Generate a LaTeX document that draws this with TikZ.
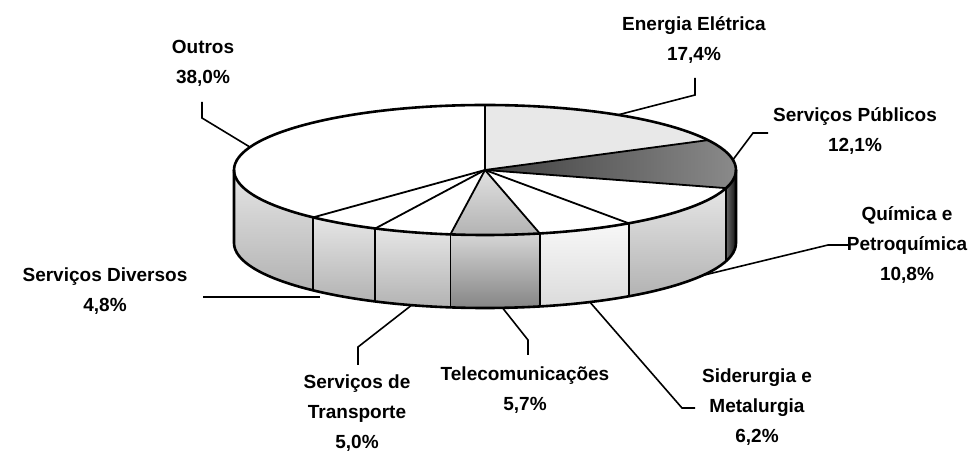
\documentclass[tikz,border=0pt]{standalone}
\usepackage{fontspec}
\setmainfont{Liberation Sans}
\newcommand\mlines[1]{\vtop{\halign{\hfil##\hfil\cr#1\crcr}}}
\begin{document}
\begin{tikzpicture}[x=1pt,y=1pt,
  edge/.style={line width=2.6pt, line join=round},
  sline/.style={line width=1.8pt, line join=round, line cap=round},
  leader/.style={line width=1.6pt, line join=miter},
  lbl/.style={inner sep=0pt, anchor=base, font=\fontsize{19}{30}\selectfont\bfseries},
  plainside/.style={top color=black!10, bottom color=black!30},
  darkside/.style={left color=black!60, right color=black!92},
  telside/.style={top color=black!16, bottom color=black!48},
  lightside/.style={top color=black!3, bottom color=black!14},
]
\useasboundingbox (0,0) rectangle (969,452);
\coordinate (C) at (485,282);
\coordinate (B) at (485,209);
\newcommand\pieside[3]{\path[#3] ([shift={(#1:251pt and 65pt)}]C) arc[start angle=#1,end angle=#2,x radius=251pt,y radius=65pt] -- ++(0,-73) arc[start angle=#2,end angle=#1,x radius=251pt,y radius=65pt] -- cycle;}
\newcommand\pietop[3]{\path[#3] (C) -- ([shift={(#1:251pt and 65pt)}]C) arc[start angle=#1,end angle=#2,x radius=251pt,y radius=65pt] -- cycle;}
% side faces
\pieside{-180}{-133.2}{plainside}
\pieside{-133.2}{-115.92}{plainside}
\pieside{-115.92}{-97.92}{plainside}
\pieside{-97.92}{-77.4}{telside}
\pieside{-77.4}{-55.08}{lightside}
\pieside{-55.08}{-16.2}{plainside}
\pieside{-16.2}{0}{darkside}
% top faces
\pietop{-133.2}{-270}{fill=white}
\pietop{90}{27.36}{fill=black!9}
\pietop{27.36}{-16.2}{left color=black!75, middle color=black!10, right color=black!45}
\pietop{-16.2}{-55.08}{fill=white}
\pietop{-55.08}{-77.4}{fill=white}
\pietop{-77.4}{-97.92}{top color=black!12, bottom color=black!30}
\pietop{-97.92}{-115.92}{fill=white}
\pietop{-115.92}{-133.2}{fill=white}
% slice boundaries on top
\foreach \a in {90,27.36,-16.2,-55.08,-77.4,-97.92,-115.92,-133.2}
  \draw[sline] (C) -- ([shift={(\a:251pt and 65pt)}]C);
% vertical edges on the front
\foreach \a in {-16.2,-55.08,-77.4,-97.92,-115.92,-133.2}
  \draw[sline] ([shift={(\a:251pt and 65pt)}]C) -- ([shift={(\a:251pt and 65pt)}]B);
% outline
\draw[edge] (C) ellipse[x radius=251pt,y radius=65pt];
\draw[edge] ([shift={(-180:251pt and 65pt)}]C) -- ([shift={(-180:251pt and 65pt)}]B)
  arc[start angle=-180,end angle=0,x radius=251pt,y radius=65pt]
  -- ([shift={(0:251pt and 65pt)}]C);
% labels
\node[lbl] (lO) at (203,398) {\mlines{Outros\cr 38,0\%}};
\node[lbl] (lE) at (694,421) {\mlines{Energia Elétrica\cr 17,4\%}};
\node[lbl] (lP) at (855,330) {\mlines{Serviços Públicos\cr 12,1\%}};
\node[lbl] (lQ) at (907,231) {\mlines{Química e\cr Petroquímica\cr 10,8\%}};
\node[lbl] (lS) at (757,69) {\mlines{Siderurgia e\cr Metalurgia\cr 6,2\%}};
\node[lbl] (lT) at (525,71) {\mlines{Telecomunicações\cr 5,7\%}};
\node[lbl] (lR) at (357,63) {\mlines{Serviços de\cr Transporte\cr 5,0\%}};
\node[lbl] (lD) at (105,170) {\mlines{Serviços Diversos\cr 4,8\%}};
% leader anchor points
\coordinate (eO) at ([shift={(159.4:251pt and 65pt)}]C);
\coordinate (eE) at ([shift={(58:251pt and 65pt)}]C);
\coordinate (eP) at ([shift={(9:251pt and 65pt)}]C);
\coordinate (eQ) at ([shift={(-30:251pt and 65pt)}]B);
\coordinate (eS) at ([shift={(-65.3:251pt and 65pt)}]B);
\coordinate (eT) at ([shift={(-86:251pt and 65pt)}]B);
\coordinate (eR) at ([shift={(-107:251pt and 65pt)}]B);
\coordinate (eD) at (320,155);
\coordinate (oO1) at (202,350); \coordinate (oO2) at (202,334);
\coordinate (oE1) at (695,374); \coordinate (oE2) at (695,357);
\coordinate (oP1) at (768,319); \coordinate (oP2) at (753,319);
\coordinate (oQ1) at (848,207); \coordinate (oQ2) at (828,207);
\coordinate (oS1) at (695,44);  \coordinate (oS2) at (682,44);
\coordinate (oT1) at (528,97);  \coordinate (oT2) at (528,112);
\coordinate (oR1) at (358,87);  \coordinate (oR2) at (358,105);
\coordinate (oD1) at (203,155);
\draw[leader] (oO1) -- (oO2) -- (eO);
\draw[leader] (oE1) -- (oE2) -- (eE);
\draw[leader] (oP1) -- (oP2) -- (eP);
\draw[leader] (oQ1) -- (oQ2) -- (eQ);
\draw[leader] (oS1) -- (oS2) -- (eS);
\draw[leader] (oT1) -- (oT2) -- (eT);
\draw[leader] (oR1) -- (oR2) -- (eR);
\draw[leader] (oD1) -- (eD);
\end{tikzpicture}
\end{document}
